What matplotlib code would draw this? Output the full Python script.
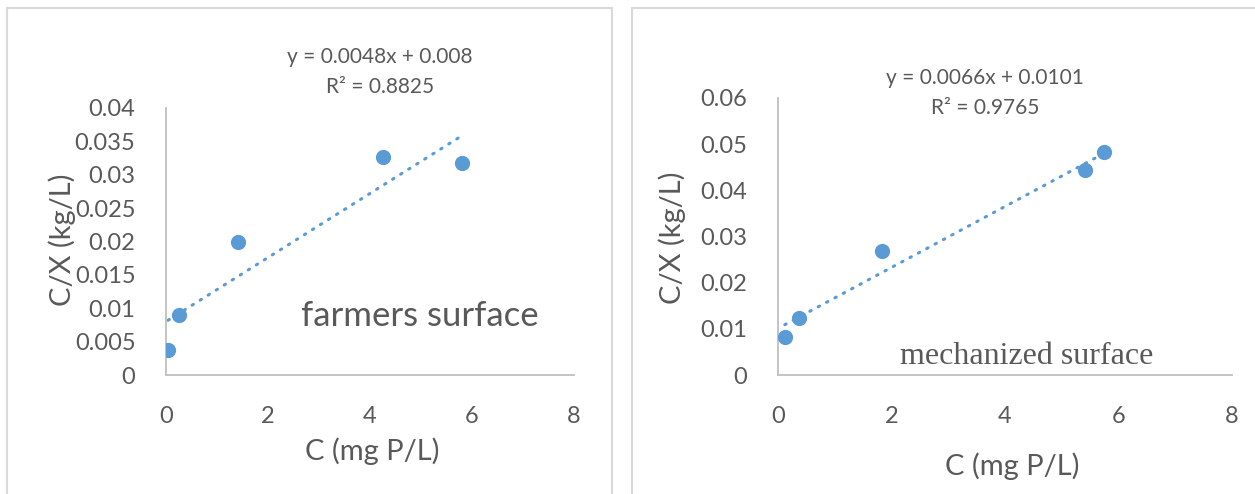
import matplotlib
matplotlib.use("Agg")
import matplotlib.pyplot as plt
import numpy as np
from matplotlib.patches import Rectangle

# data
farm_c = [0.04, 0.25, 1.41, 4.25, 5.8]
farm_cx = [0.0037, 0.0090, 0.0199, 0.0326, 0.0317]
farm_slope, farm_icpt = 0.0048, 0.008
farm_eq = ["y = 0.0048x + 0.008", "R² = 0.8825"]

mech_c = [0.12, 0.37, 1.83, 5.41, 5.75]
mech_cx = [0.0082, 0.0123, 0.0268, 0.0444, 0.0483]
mech_slope, mech_icpt = 0.0066, 0.0101
mech_eq = ["y = 0.0066x + 0.0101", "R² = 0.9765"]

x_ticks = [0, 2, 4, 6, 8]
farm_yticks = [0, 0.005, 0.01, 0.015, 0.02, 0.025, 0.03, 0.035, 0.04]
farm_ylabels = ["0", "0.005", "0.01", "0.015", "0.02", "0.025", "0.03", "0.035", "0.04"]
mech_yticks = [0, 0.01, 0.02, 0.03, 0.04, 0.05, 0.06]
mech_ylabels = ["0", "0.01", "0.02", "0.03", "0.04", "0.05", "0.06"]

blue = "#5b9bd5"
grey_txt = "#595959"
plt.rcParams["font.family"] = ["Lato", "DejaVu Sans"]

W, H = 1255, 494
fig = plt.figure(figsize=(W / 100, H / 100), dpi=100)

# panel frames
fig.patches.append(Rectangle((7 / W, -0.01), (612 - 7) / W, 1 - 8 / H + 0.01,
                             transform=fig.transFigure, fill=False,
                             edgecolor="#d9d9d9", lw=1.5))
fig.patches.append(Rectangle((632 / W, -0.01), 1.0, 1 - 8 / H + 0.01,
                             transform=fig.transFigure, fill=False,
                             edgecolor="#d9d9d9", lw=1.5))


def make_panel(rect, xs, ys, slope, icpt, yticks, ylabels, ymax):
    ax = fig.add_axes(rect)
    ax.scatter(xs, ys, s=120, color=blue, zorder=3, linewidths=0)
    xx = np.linspace(min(xs), max(xs), 50)
    ax.plot(xx, slope * xx + icpt, color=blue, lw=2.2, linestyle=(0, (0.5, 2.6)),
            dash_capstyle="round")
    ax.set_xlim(0, 8)
    ax.set_ylim(0, ymax)
    ax.set_xticks(x_ticks)
    ax.set_yticks(yticks)
    ax.set_yticklabels(ylabels)
    for s in ["top", "right"]:
        ax.spines[s].set_visible(False)
    for s in ["left", "bottom"]:
        ax.spines[s].set_color("#bfbfbf")
        ax.spines[s].set_linewidth(1.3)
    ax.tick_params(length=0, labelsize=17, labelcolor=grey_txt)
    ax.tick_params(axis="x", pad=22)
    ax.tick_params(axis="y", pad=22)
    ax.set_facecolor("none")
    return ax


ax1 = make_panel([166 / W, 1 - 375 / H, (574 - 166) / W, (375 - 108) / H],
                 farm_c, farm_cx, farm_slope, farm_icpt,
                 farm_yticks, farm_ylabels, 0.04)
ax2 = make_panel([778 / W, 1 - 375 / H, (1232 - 778) / W, (375 - 98) / H],
                 mech_c, mech_cx, mech_slope, mech_icpt,
                 mech_yticks, mech_ylabels, 0.06)

# texts in figure pixels
def ftext(x, y, s, **kw):
    fig.text(x / W, 1 - y / H, s, ha="center", va="center", color=grey_txt, **kw)

ftext(380, 57, farm_eq[0], fontsize=15)
ftext(380, 87, farm_eq[1], fontsize=15)
ftext(985, 78, mech_eq[0], fontsize=15)
ftext(985, 108, mech_eq[1], fontsize=15)

ftext(62, 240, "C/X (kg/L)", fontsize=21, rotation=90)
ftext(372, 451, "C (mg P/L)", fontsize=21)
ftext(672, 238, "C/X (kg/L)", fontsize=21, rotation=90)
ftext(1012, 466, "C (mg P/L)", fontsize=21)

ftext(420, 316, "farmers surface", fontsize=25)
ftext(1027, 356, "mechanized surface", fontsize=23, family="Liberation Serif")

fig.savefig("out.png", dpi=100, facecolor="white")
